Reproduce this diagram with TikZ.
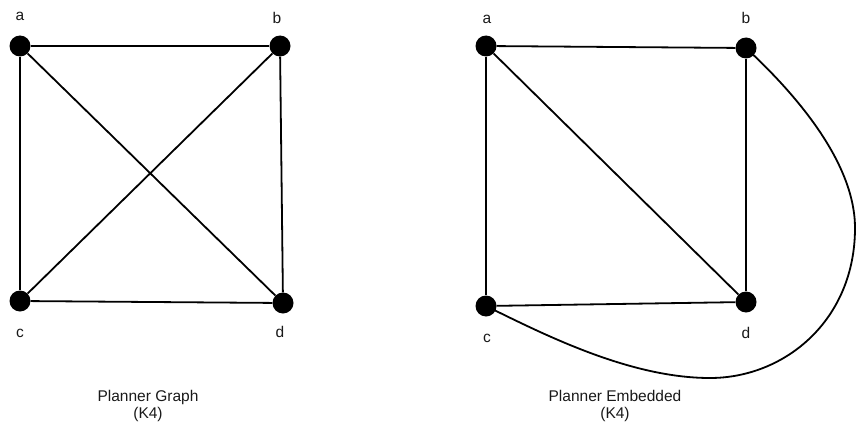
\documentclass[tikz,border=0pt]{standalone}
\usepackage{fontspec}
\setmainfont{Liberation Sans}
\begin{document}
\begin{tikzpicture}[x=1pt,y=-1pt,
  vtx/.style={circle,fill=black,inner sep=0pt,minimum size=21pt},
  lbl/.style={font=\fontsize{15.5}{17}\selectfont,text=black!90,inner sep=0pt},
  edge/.style={line width=1.8pt,black},
  captiontext/.style={font=\fontsize{15.5}{16.5}\selectfont,text=black!90,align=center,inner sep=0pt}]
\useasboundingbox (0,0) rectangle (856,428);
% left graph
\node[vtx] (a) at (20,46) {};
\node[vtx] (b) at (280,46) {};
\node[vtx] (c) at (20,301) {};
\node[vtx] (d) at (283,303) {};
\node[lbl] (la) at (20,16) {a};
\node[lbl] (lb) at (277,18) {b};
\node[lbl] (lc) at (20,333) {c};
\node[lbl] (ld) at (280,332) {d};
\draw[edge] (a) -- (b);
\draw[edge] (a) -- (c);
\draw[edge] (a) -- (d);
\draw[edge] (b) -- (c);
\draw[edge] (b) -- (d);
\draw[edge] (c) -- (d);
\node[captiontext] (t1) at (148,406) {Planner Graph\\(K4)};
% right graph
\node[vtx] (ra) at (486,46) {};
\node[vtx] (rb) at (746,48) {};
\node[vtx] (rc) at (486,306) {};
\node[vtx] (rd) at (746,302) {};
\node[lbl] (rla) at (487,19) {a};
\node[lbl] (rlb) at (746,18) {b};
\node[lbl] (rlc) at (487,338) {c};
\node[lbl] (rld) at (746,333) {d};
\draw[edge] (ra) -- (rb);
\draw[edge] (ra) -- (rc);
\draw[edge] (ra) -- (rd);
\draw[edge] (rb) -- (rd);
\draw[edge] (rc) -- (rd);
\coordinate (p1) at (855,228);
\coordinate (p2) at (710,378);
\draw[edge] (rb.center) .. controls (800,98) and (855,165) .. (p1)
  .. controls (855,320) and (785,378) .. (p2)
  .. controls (630,378) and (545,335) .. (rc.center);
\node[captiontext] (t2) at (615,406) {Planner Embedded\\(K4)};
\end{tikzpicture}
\end{document}
